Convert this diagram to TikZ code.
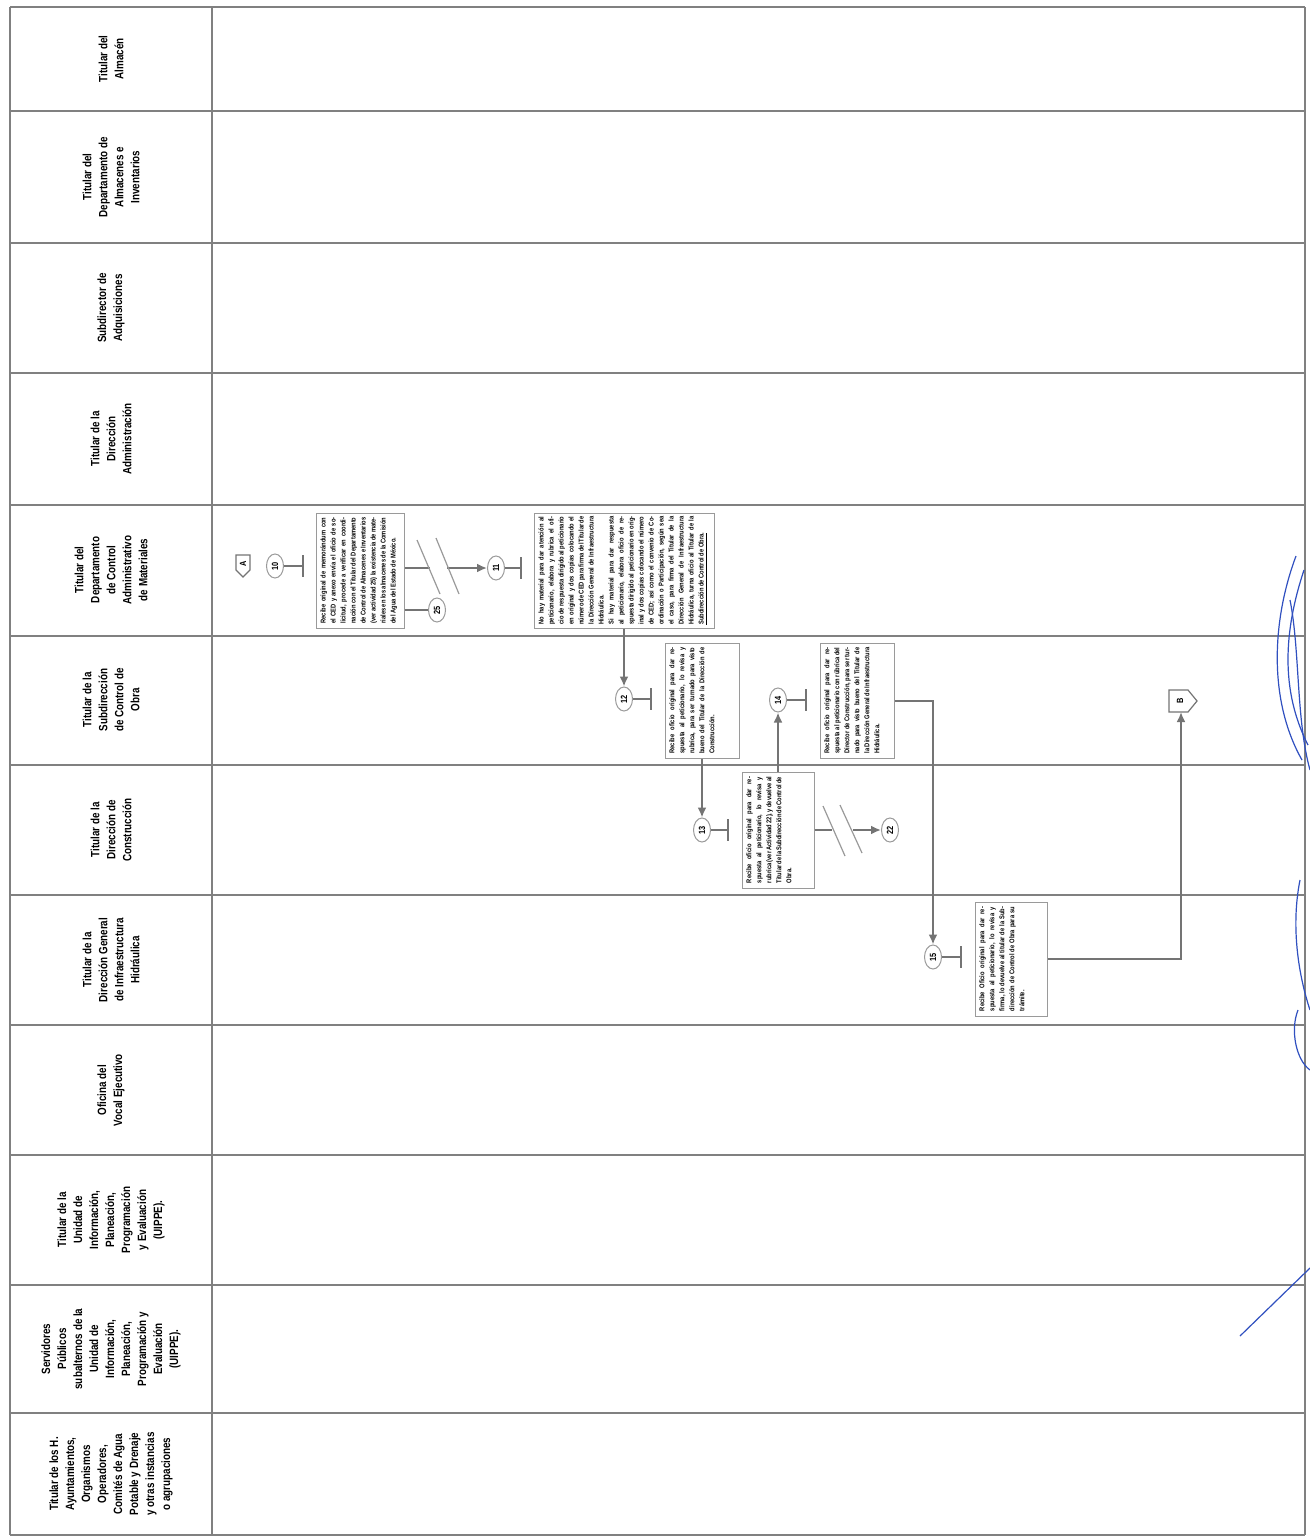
\documentclass[tikz,border=0pt]{standalone}
\usepackage{fontspec}
\setmainfont{Liberation Sans}
\newfontfamily\narrowfont[FakeStretch=0.82]{Liberation Sans}
\usetikzlibrary{shapes.geometric,arrows.meta}
\definecolor{lanegray}{HTML}{808080}
\definecolor{linegray}{HTML}{747474}
\definecolor{boxgray}{HTML}{9A9A9A}
\definecolor{inkblue}{HTML}{3050C0}
\begin{document}
\begin{tikzpicture}[x=0.5pt,y=-0.5pt,
  lane/.style={draw=lanegray,line width=1.1pt},
  header/.style={rotate=90,align=center,inner sep=0pt,
    font=\narrowfont\bfseries\fontsize{6}{8}\selectfont},
  boxframe/.style={draw=boxgray,line width=0.5pt,fill=white,inner sep=0pt},
  boxtxt/.style={rotate=90,inner sep=0pt,align=justify,
    font=\narrowfont\bfseries\fontsize{3.5}{5}\selectfont},
  stepnum/.style={ellipse,rotate=90,draw=boxgray,line width=0.5pt,fill=white,
    minimum width=12pt,minimum height=8.5pt,inner sep=0pt,
    font=\narrowfont\bfseries\fontsize{4.5}{5}\selectfont},
  flow/.style={draw=linegray,line width=1pt},
  arr/.style={flow,-{Latex[length=5pt,width=4.5pt]}},
  endbar/.style={flow,-{Bar[width=11pt,line width=1pt]}},
  slash/.style={draw=boxgray,line width=0.6pt},
  offpage/.style={draw=linegray,line width=0.6pt,fill=white},
  offtxt/.style={rotate=90,inner sep=0pt,font=\narrowfont\bfseries\fontsize{4.5}{5}\selectfont},
  sign/.style={draw=inkblue,line width=0.6pt}
]
\useasboundingbox (0,0) rectangle (1310,1537);
\fill[white] (0,0) rectangle (1310,1537);

% ---------- lanes ----------
\foreach \yy in {7,111,243,373,505,636,765,895,1025,1155,1285,1413,1535}
  \draw[lane] (10,\yy) -- (1305,\yy);
\draw[lane] (10,7) -- (10,1535);
\draw[lane] (212,7) -- (212,1535);
\draw[lane] (1305,7) -- (1305,1535);

% ---------- headers ----------
\node[header] (h1) at (111,59) {Titular del\\Almacén};
\node[header] (h2) at (111,177) {Titular del\\Departamento de\\Almacenes e\\Inventarios};
\node[header] (h3) at (111,308) {Subdirector de\\Adquisiciones};
\node[header] (h4) at (111,439) {Titular de la\\Dirección\\Administración};
\node[header] (h5) at (111,570) {Titular del\\Departamento\\de Control\\Administrativo\\de Materiales};
\node[header] (h6) at (111,700) {Titular de la\\Subdirección\\de Control de\\Obra};
\node[header] (h7) at (111,830) {Titular de la\\Dirección de\\Construcción};
\node[header] (h8) at (111,960) {Titular de la\\Dirección General\\de Infraestructura\\Hidráulica};
\node[header] (h9) at (111,1090) {Oficina del\\Vocal Ejecutivo};
\node[header] (h10) at (111,1220) {Titular de la\\Unidad de\\Información,\\Planeación,\\Programación\\y Evaluación\\(UIPPE).};
\node[header] (h11) at (111,1349) {Servidores\\Públicos\\subalternos de la\\Unidad de\\Información,\\Planeación,\\Programación y\\Evaluación\\(UIPPE).};
\node[header] (h12) at (111,1474) {Titular de los H.\\Ayuntamientos,\\Organismos\\Operadores,\\Comités de Agua\\Potable y Drenaje\\y otras instancias\\o agrupaciones};

% ---------- boxes ----------
\node[boxframe,minimum width=44pt,minimum height=57.5pt] (b1) at (360,570.5) {};
\node[boxtxt,text width=53pt,anchor=north] (t1) at (320,570.5) {Recibe original de memorándum con el CED y anexo envía el oficio de solicitud, procede a verificar en coordinación con el Titular del Departamento de Control de Almacenes e Inventarios (ver actividad 25) la existencia de materiales en los almacenes de la Comisión del Agua del Estado de México.};

\node[boxframe,minimum width=90pt,minimum height=57.5pt] (b2) at (624,570.5) {};
\node[boxtxt,text width=54pt,anchor=north] (t2) at (538,570.5) {No hay material para dar atención al peticionario, elabora y rubrica el oficio de respuesta dirigido al peticionario en original y dos copias colocando el número de CED para firma del Titular de la Dirección General de Infraestructura Hidráulica.\\Si hay material para dar respuesta al peticionario, elabora oficio de respuesta dirigido al peticionario en original y dos copias colocando el número de CED; así como el convenio de Coordinación o Participación, según sea el caso, para firma del Titular de la Dirección General de Infraestructura Hidráulica, turna oficio al Titular de la \underline{Subdirección de Control de Obra.}};

\node[boxframe,minimum width=37pt,minimum height=57.5pt] (b3) at (702,700.5) {};
\node[boxtxt,text width=53pt,anchor=north] (t3) at (669,700.5) {Recibe oficio original para dar respuesta al peticionario, lo revisa y rubrica, para ser turnado para visto bueno del Titular de la Dirección de Construcción.};

\node[boxframe,minimum width=37pt,minimum height=57.5pt] (b5) at (857,700.5) {};
\node[boxtxt,text width=53pt,anchor=north] (t5) at (824,700.5) {Recibe oficio original para dar respuesta al peticionario con rúbrica del Director de Construcción, para ser turnado para visto bueno del Titular de la Dirección General de Infraestructura Hidráulica.};

\node[boxframe,minimum width=36pt,minimum height=58pt] (b4) at (778,830) {};
\node[boxtxt,text width=53pt,anchor=north] (t4) at (746,830) {Recibe oficio original para dar respuesta al peticionario, lo revisa y rubrica (ver Actividad 22), y devuelve al Titular de la Subdirección de Control de Obra.};

\node[boxframe,minimum width=36pt,minimum height=57pt] (b6) at (1011,959) {};
\node[boxtxt,text width=52pt,anchor=north] (t6) at (979,959) {Recibe Oficio original para dar respuesta al peticionario, lo revisa y firma, lo devuelve al titular de la Subdirección de Control de Obra para su trámite.};

% ---------- step numbers ----------
\node[stepnum] (e10) at (275,566) {10};
\node[stepnum] (e11) at (496,568) {11};
\node[stepnum] (e25) at (437,610) {25};
\node[stepnum] (e12) at (624,699) {12};
\node[stepnum] (e13) at (702,830) {13};
\node[stepnum] (e14) at (778,700) {14};
\node[stepnum] (e22) at (890,830) {22};
\node[stepnum] (e15) at (933,957) {15};

% end bars
\coordinate (x10) at (304,566);
\coordinate (x11) at (522,568);
\coordinate (x12) at (652,699);
\coordinate (x13) at (729,830);
\coordinate (x14) at (807,700);
\coordinate (x15) at (962,957);
\draw[endbar] (e10) -- (x10);
\draw[endbar] (e11) -- (x11);
\draw[endbar] (e12) -- (x12);
\draw[endbar] (e13) -- (x13);
\draw[endbar] (e14) -- (x14);
\draw[endbar] (e15) -- (x15);

% ---------- off-page connectors ----------
\draw[offpage] (236,555) -- (250,555) -- (250,570) -- (243,577) -- (236,570) -- cycle;
\node[offtxt] (A) at (243,564) {A};
\draw[offpage] (1169,690) -- (1188,690) -- (1197,701) -- (1188,712) -- (1169,712) -- cycle;
\node[offtxt] (B) at (1180,701) {B};
\coordinate (Bb) at (1181,712);

% ---------- connectors ----------
% box 1 -> 11 with cut
\coordinate (c1a) at (430,568);
\coordinate (c1b) at (447,568);
\draw[flow] (b1.east |- e11) -- (c1a);
\draw[arr] (c1b) -- (e11);
\draw[slash] (417,540) -- (440,594);
\draw[slash] (436,538) -- (459,594);
% box 1 -> 25
\draw[flow] (b1.east |- e25) -- (e25);
% box 2 -> 12
\draw[arr] (b2.south) -- (e12);
% box 3 -> 13
\draw[arr] (b3.south) -- (e13);
% box 4 -> 14
\draw[arr] (b4.north) -- (e14);
% box 4 -> 22 with cut
\coordinate (c2a) at (832,830);
\coordinate (c2b) at (853,830);
\draw[flow] (b4.east) -- (c2a);
\draw[arr] (c2b) -- (e22);
\draw[slash] (823,806) -- (845,856);
\draw[slash] (840,805) -- (862,853);
% box 5 -> 15
\draw[arr] (b5.east) -| (e15);
% box 6 -> B
\draw[arr] (b6.east) -| (Bb);

% ---------- ink signatures ----------
\draw[sign] (1296,556) .. controls (1272,620) and (1268,700) .. (1302,760);
\draw[sign] (1304,570) .. controls (1284,630) and (1280,690) .. (1308,745);
\draw[sign] (1290,600) .. controls (1300,650) and (1296,720) .. (1310,770);
\draw[sign] (1300,880) .. controls (1290,930) and (1300,980) .. (1310,1010);
\draw[sign] (1298,1010) .. controls (1290,1030) and (1296,1060) .. (1310,1070);
\draw[sign] (1240,1336) -- (1310,1268);
\end{tikzpicture}
\end{document}
